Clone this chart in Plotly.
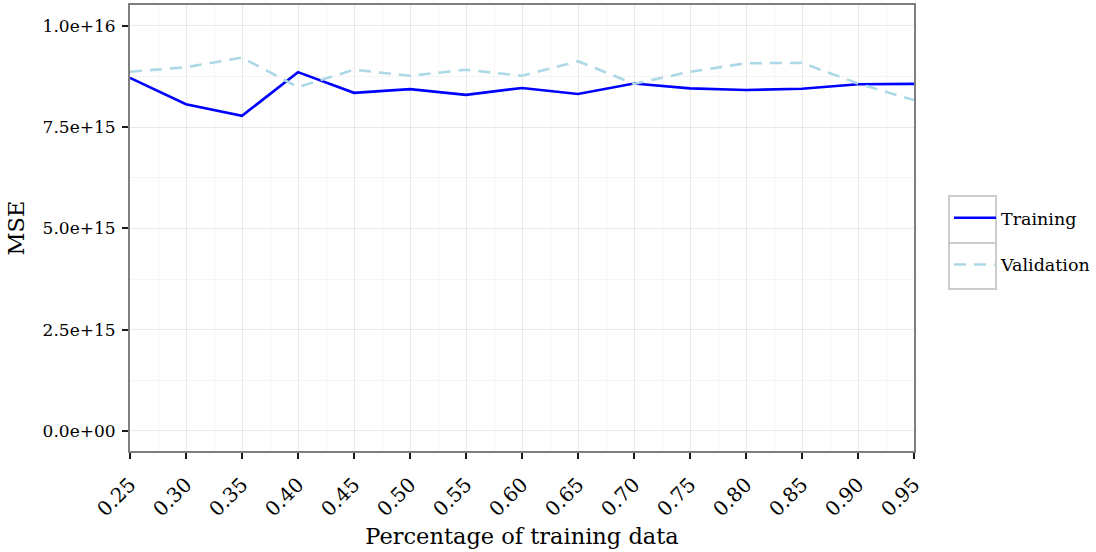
import plotly.graph_objects as go

pct = [0.25, 0.30, 0.35, 0.40, 0.45, 0.50, 0.55, 0.60, 0.65, 0.70, 0.75, 0.80, 0.85, 0.90, 0.95]
training = [8.72e15, 8.07e15, 7.78e15, 8.86e15, 8.35e15, 8.44e15, 8.30e15, 8.47e15, 8.32e15,
            8.58e15, 8.46e15, 8.42e15, 8.45e15, 8.56e15, 8.57e15]
validation = [8.87e15, 8.98e15, 9.22e15, 8.49e15, 8.92e15, 8.77e15, 8.92e15, 8.77e15, 9.13e15,
              8.57e15, 8.87e15, 9.08e15, 9.09e15, 8.58e15, 8.17e15]
y_ticks = [0, 2.5e15, 5.0e15, 7.5e15, 1.0e16]
y_ticktext = ["0.0e+00", "2.5e+15", "5.0e+15", "7.5e+15", "1.0e+16"]
x_ticktext = ["%.2f" % v for v in pct]

FONT = "DejaVu Serif"

fig = go.Figure()
fig.add_trace(go.Scatter(x=pct, y=training, mode="lines", name="Training",
                         legendgroup="a",
                         line=dict(color="#0000FF", width=2.6)))
fig.add_trace(go.Scatter(x=pct, y=validation, mode="lines", name="Validation",
                         legendgroup="b",
                         line=dict(color="#ADD8E6", width=2.6, dash="12px,8px")))

x_minor = [(pct[i] + pct[i + 1]) / 2 for i in range(len(pct) - 1)]
y_minor = [(y_ticks[i] + y_ticks[i + 1]) / 2 for i in range(len(y_ticks) - 1)]

fig.update_layout(
    width=1096, height=552,
    margin=dict(l=130, r=182, t=5, b=101, autoexpand=False),
    paper_bgcolor="white", plot_bgcolor="white",
    font=dict(family=FONT, color="#000000"),
    showlegend=True,
    legend=dict(x=1.0446, y=0.47, xanchor="left", yanchor="middle",
                font=dict(size=17.5, family=FONT, color="#000000"),
                traceorder="grouped", tracegroupgap=21, itemwidth=42,
                bgcolor="rgba(0,0,0,0)"),
    xaxis=dict(range=[0.25, 0.95], tickmode="array", tickvals=pct, ticktext=x_ticktext,
               tickangle=-45, tickfont=dict(size=20, family=FONT, color="#000000"),
               ticks="outside", ticklen=6, tickwidth=2, tickcolor="#1a1a1a",
               ticklabelstandoff=6,
               showgrid=True, gridcolor="#E8E8E8", gridwidth=1.2,
               minor=dict(tickvals=x_minor, showgrid=True, gridcolor="#F4F4F4", gridwidth=1, ticks=""),
               showline=True, linecolor="#7F7F7F", linewidth=2, mirror=True, zeroline=False,
               title=dict(text="Percentage of training data", font=dict(size=22.5, family=FONT), standoff=8)),
    yaxis=dict(range=[-0.494e15, 1.0518e16], tickmode="array", tickvals=y_ticks, ticktext=y_ticktext,
               tickfont=dict(size=17, family=FONT, color="#000000"),
               ticks="outside", ticklen=6, tickwidth=2, tickcolor="#1a1a1a",
               ticklabelstandoff=3,
               showgrid=True, gridcolor="#E8E8E8", gridwidth=1.2,
               minor=dict(tickvals=y_minor, showgrid=True, gridcolor="#F4F4F4", gridwidth=1, ticks=""),
               showline=True, linecolor="#7F7F7F", linewidth=2, mirror=True, zeroline=False,
               title=dict(text="MSE", font=dict(size=22.5, family=FONT), standoff=12)),
)

# legend key boxes (ggplot-style)
def px_x(p):
    return (p - 130) / 784.0
def px_y(p):
    return (451 - p) / 446.0
for top, bot in [(196, 243), (243, 289)]:
    fig.add_shape(type="rect", xref="paper", yref="paper",
                  x0=px_x(949), x1=px_x(996), y0=px_y(bot), y1=px_y(top),
                  line=dict(color="#CCCCCC", width=2), fillcolor="rgba(0,0,0,0)", layer="below")

fig.write_html("out.html")
